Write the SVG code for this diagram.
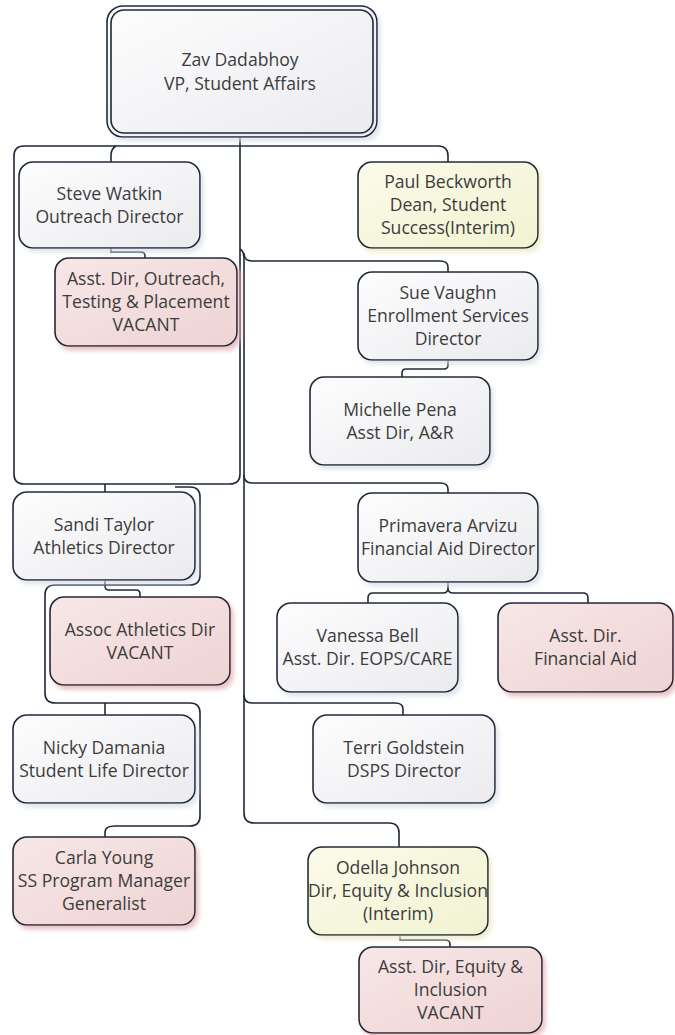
<svg xmlns="http://www.w3.org/2000/svg" width="675" height="1035" viewBox="0 0 675 1035">
<style>
.bx{stroke:#1e2838;stroke-width:1.6}
.g{fill:url(#gGray);filter:url(#shG)}
.p{fill:url(#gPink);filter:url(#shP)}
.y{fill:url(#gYel);filter:url(#shY)}
text{font-family:"Open Sans","Liberation Sans",sans-serif;font-size:17.6px;fill:#3c3c3c;text-anchor:middle}
#connectors path{fill:none;stroke:#1e2838;stroke-width:1.6}
</style>
<defs>
<linearGradient id="gGray" x1="0" y1="0" x2="1" y2="1"><stop offset="0" stop-color="#fdfdfe"/><stop offset="1" stop-color="#ebebee"/></linearGradient>
<linearGradient id="gPink" x1="0" y1="0" x2="1" y2="1"><stop offset="0" stop-color="#f7e7e7"/><stop offset="1" stop-color="#efd3d3"/></linearGradient>
<linearGradient id="gYel" x1="0" y1="0" x2="1" y2="1"><stop offset="0" stop-color="#fbfbea"/><stop offset="1" stop-color="#f2f2d2"/></linearGradient>
<filter id="shG" x="-10%" y="-10%" width="125%" height="130%"><feDropShadow dx="3" dy="4" stdDeviation="2" flood-color="#d6dde8" flood-opacity="0.7"/></filter>
<filter id="shP" x="-10%" y="-10%" width="125%" height="130%"><feDropShadow dx="3" dy="4" stdDeviation="2" flood-color="#e8b4b8" flood-opacity="0.8"/></filter>
<filter id="shY" x="-10%" y="-10%" width="125%" height="130%"><feDropShadow dx="3" dy="4" stdDeviation="2" flood-color="#ecebc4" flood-opacity="0.8"/></filter>
</defs>
<rect width="675" height="1035" fill="#ffffff"/>

<g id="connectors">
<path d="M240,137 V474 Q240,484 230,484 H24 Q14,484 14,474 V156 Q14,146 24,146 H240"/>
<path d="M240,146 H438 Q448,146 448,156 V162"/>
<path d="M116,146 Q111,149 111,155 V162"/>
<path d="M111,248 V252 H141 Q145,252 145,256 V258"/>
<path d="M240,249 Q244,251 244,259 V813 Q244,823 254,823 H389 Q399,823 399,833 V847"/>
<path d="M244,253 Q244,261 252,261 H440 Q448,261 448,267 V272"/>
<path d="M448,360 V365 Q448,369 444,369 H406 Q402,369 402,373 V377"/>
<path d="M244,475 Q244,483 252,483 H440 Q448,483 448,489 V493"/>
<path d="M448,582 V588 Q448,593 443,593 H373 Q368,593 368,598 V603"/>
<path d="M448,588 Q448,593 453,593 H583 Q588,593 588,598 V603"/>
<path d="M244,695 Q244,703 252,703 H395 Q403,703 403,709 V715"/>
<path d="M400,935 V940 H445 Q450,940 450,944 V947"/>
<path d="M105,484 V492"/>
<path d="M105,580 V586 Q105,590 109,590 H136 Q140,590 140,594 V597"/>
<path d="M175,487 H190 Q200,487 200,497 V575 Q200,585 190,585 H55 Q45,585 45,595 V693 Q45,703 55,703 H190 Q200,703 200,713 V816 Q200,826 190,826 H115 Q105,826 105,832 V837"/>
<path d="M105,703 V715"/>
</g>

<g id="zav">
<rect class="bx g" x="107" y="6" width="270" height="131" rx="16"/>
<rect class="bx" x="111" y="10" width="262" height="123" rx="13" fill="none"/>
<text x="240" y="66">Zav Dadabhoy</text>
<text x="240" y="90">VP, Student Affairs</text>
</g>

<g id="steve">
<rect class="bx g" x="19" y="162" width="181" height="86" rx="14"/>
<text x="109.5" y="199.5">Steve Watkin</text>
<text x="109.5" y="222.5">Outreach Director</text>
</g>

<g id="asst-outreach">
<rect class="bx p" x="55" y="258" width="182" height="88" rx="14"/>
<text x="146" y="285">Asst. Dir, Outreach,</text>
<text x="146" y="308">Testing &amp; Placement</text>
<text x="146" y="331">VACANT</text>
</g>

<g id="paul">
<rect class="bx y" x="358" y="162" width="180" height="86" rx="14"/>
<text x="448" y="188">Paul Beckworth</text>
<text x="448" y="211">Dean, Student</text>
<text x="448" y="234">Success(Interim)</text>
</g>

<g id="sue">
<rect class="bx g" x="358" y="272" width="180" height="88" rx="14"/>
<text x="448" y="299">Sue Vaughn</text>
<text x="448" y="322">Enrollment Services</text>
<text x="448" y="345">Director</text>
</g>

<g id="michelle">
<rect class="bx g" x="310" y="377" width="180" height="88" rx="14"/>
<text x="400" y="415.5">Michelle Pena</text>
<text x="400" y="438.5">Asst Dir, A&amp;R</text>
</g>

<g id="sandi">
<rect class="bx g" x="13" y="492" width="182" height="88" rx="14"/>
<text x="104" y="530.5">Sandi Taylor</text>
<text x="104" y="553.5">Athletics Director</text>
</g>

<g id="assoc-athletics">
<rect class="bx p" x="50" y="597" width="180" height="88" rx="14"/>
<text x="140" y="635.5">Assoc Athletics Dir</text>
<text x="140" y="658.5">VACANT</text>
</g>

<g id="nicky">
<rect class="bx g" x="13" y="715" width="182" height="88" rx="14"/>
<text x="104" y="753.5">Nicky Damania</text>
<text x="104" y="776.5">Student Life Director</text>
</g>

<g id="carla">
<rect class="bx p" x="13" y="837" width="182" height="88" rx="14"/>
<text x="104" y="864">Carla Young</text>
<text x="104" y="887">SS Program Manager</text>
<text x="104" y="910">Generalist</text>
</g>

<g id="primavera">
<rect class="bx g" x="358" y="493" width="180" height="89" rx="14"/>
<text x="448" y="532">Primavera Arvizu</text>
<text x="448" y="555">Financial Aid Director</text>
</g>

<g id="vanessa">
<rect class="bx g" x="277" y="603" width="181" height="89" rx="14"/>
<text x="367.5" y="642">Vanessa Bell</text>
<text x="367.5" y="665">Asst. Dir. EOPS/CARE</text>
</g>

<g id="asst-fa">
<rect class="bx p" x="498" y="603" width="175" height="89" rx="14"/>
<text x="585.5" y="642">Asst. Dir.</text>
<text x="585.5" y="665">Financial Aid</text>
</g>

<g id="terri">
<rect class="bx g" x="313" y="715" width="182" height="88" rx="14"/>
<text x="404" y="753.5">Terri Goldstein</text>
<text x="404" y="776.5">DSPS Director</text>
</g>

<g id="odella">
<rect class="bx y" x="308" y="847" width="180" height="88" rx="14"/>
<text x="398" y="874">Odella Johnson</text>
<text x="398" y="897">Dir, Equity &amp; Inclusion</text>
<text x="398" y="920">(Interim)</text>
</g>

<g id="asst-equity">
<rect class="bx p" x="359" y="947" width="183" height="86" rx="14"/>
<text x="450.5" y="973">Asst. Dir, Equity &amp;</text>
<text x="450.5" y="996">Inclusion</text>
<text x="450.5" y="1019">VACANT</text>
</g>
</svg>
